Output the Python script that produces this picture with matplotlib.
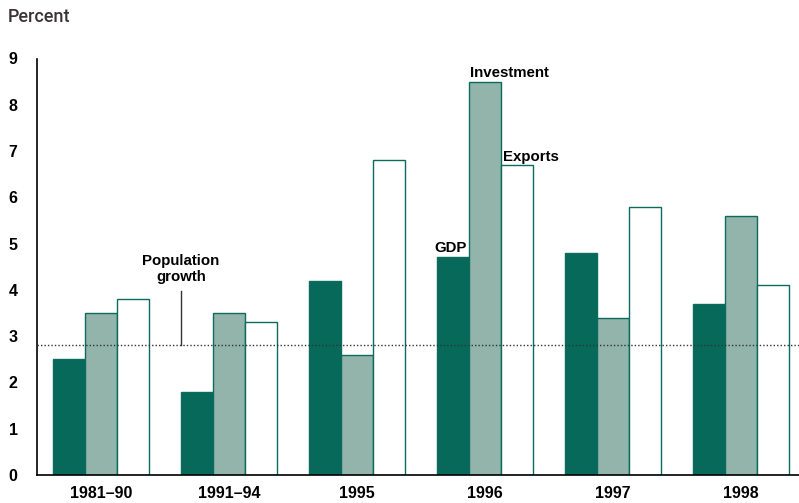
import matplotlib
matplotlib.use("Agg")
import matplotlib.pyplot as plt
import numpy as np

categories = ["1981\u201390", "1991\u201394", "1995", "1996", "1997", "1998"]
gdp = [2.5, 1.8, 4.2, 4.7, 4.8, 3.7]
investment = [3.5, 3.5, 2.6, 8.5, 3.4, 5.6]
exports = [3.8, 3.3, 6.8, 6.7, 5.8, 4.1]
population_growth = 2.8
yticks = list(range(0, 10))

plt.rcParams['font.family'] = ['Liberation Sans', 'DejaVu Sans']

fig = plt.figure(figsize=(7.99, 5.03), dpi=100)
ax = fig.add_axes([37/799, 1 - 475/503, 1 - 37/799, (475 - 58.5)/503])

x = np.arange(len(categories))
w = 0.25
edge = "#0B6B5C"
ax.bar(x - w, gdp, w, color="#07695A", edgecolor=edge, linewidth=1)
ax.bar(x, investment, w, color="#92B4AB", edgecolor=edge, linewidth=1)
ax.bar(x + w, exports, w, color="white", edgecolor=edge, linewidth=1)

ax.axhline(population_growth, color="#333333", linestyle=(0, (1, 1.5)), linewidth=1, zorder=3)

ax.set_xlim(-0.5, 5.453)
ax.set_ylim(0, 9)
ax.set_yticks(yticks)
ax.set_yticklabels([str(t) for t in yticks], fontsize=11.5, fontweight="bold")
ax.set_xticks(x)
ax.set_xticklabels(categories, fontsize=11.5, fontweight="bold")
ax.tick_params(axis="both", length=0, pad=8)
ax.tick_params(axis="y", pad=14)
for s in ["top", "right"]:
    ax.spines[s].set_visible(False)
ax.spines["left"].set_linewidth(1.2)
ax.spines["bottom"].set_linewidth(1.2)

fig.text(8/799, 1 - 17/503, "Percent", fontsize=13, color="#3a3438", va="center", ha="left",
         family=["Roboto", "Liberation Sans", "DejaVu Sans"], fontweight="medium")

# annotations
ax.plot([0.625, 0.625], [population_growth, 3.98], color="#333333", lw=1)
ax.text(0.625, 4.45, "Population\ngrowth", ha="center", va="center", fontsize=10.8,
        fontweight="bold", linespacing=1.15)
ax.text(2.73, gdp[3] + 0.05, "GDP", ha="center", va="bottom", fontsize=10.8, fontweight="bold")
ax.text(3.19, investment[3] + 0.03, "Investment", ha="center", va="bottom", fontsize=10.8, fontweight="bold")
ax.text(3.36, exports[3] + 0.03, "Exports", ha="center", va="bottom", fontsize=10.8, fontweight="bold")

fig.savefig("out.png", dpi=100)
